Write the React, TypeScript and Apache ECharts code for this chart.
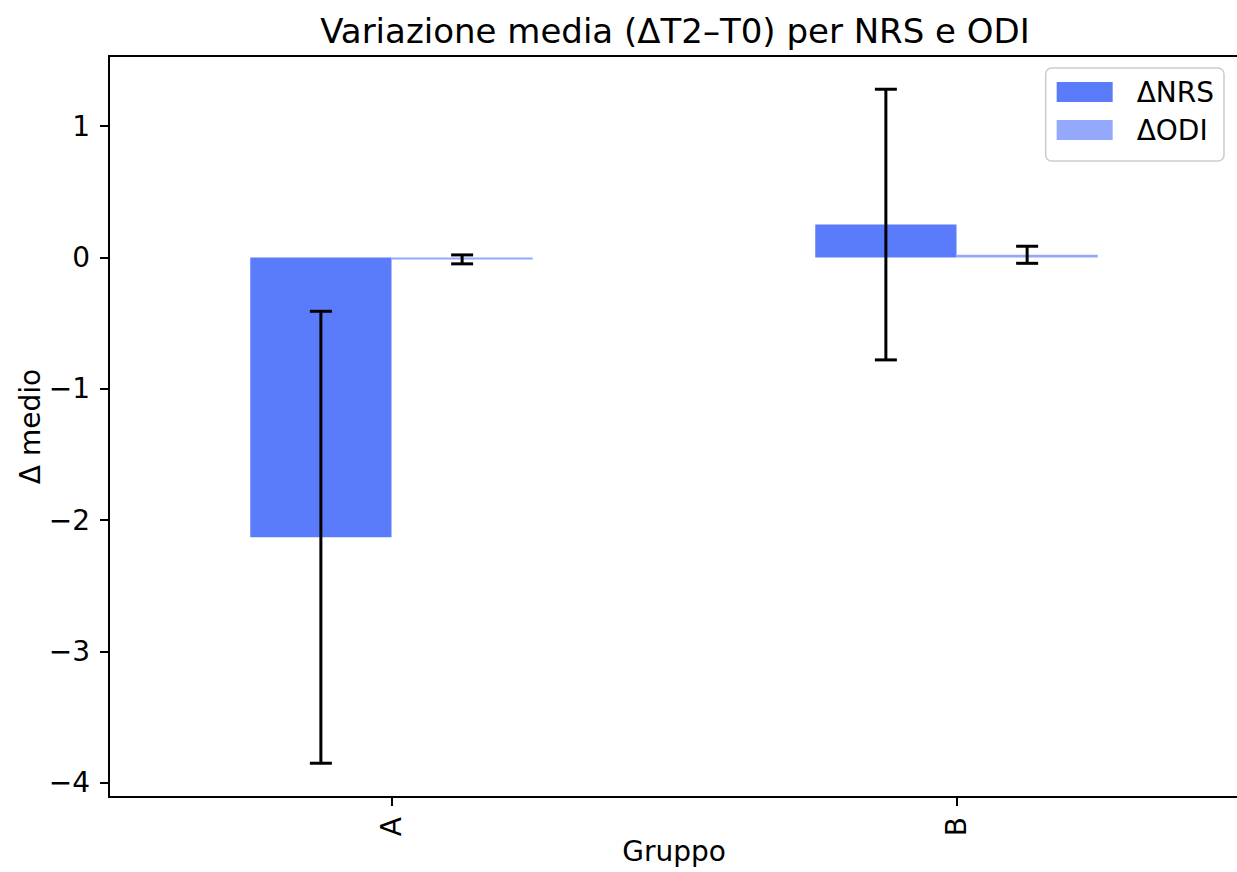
import React, { useEffect, useRef } from "react";
import * as echarts from "echarts";

const categories = ["A", "B"];
const nrsMean = [-2.13, 0.25];
const nrsErr = [1.72, 1.03];
const odiMean = [-0.015, 0.02];
const odiErr = [0.034, 0.065];
const yTicks = [-4, -3, -2, -1, 0, 1];
const seriesNames = ["ΔNRS", "ΔODI"];
const titleText = "Variazione media (ΔT2–T0) per NRS e ODI";

const FONT = "DejaVu Sans";

function errData(mean: number[], err: number[]) {
  return mean.map((m, i) => [i, m - err[i], m + err[i]]);
}

function makeErrRender(offset: number) {
  return (params: any, api: any) => {
    const i = api.value(0);
    const lo = api.value(1);
    const hi = api.value(2);
    const band = api.size([1, 0])[0];
    const x = api.coord([i, 0])[0] + offset * band;
    const yLo = api.coord([i, lo])[1];
    const yHi = api.coord([i, hi])[1];
    const cap = 11;
    const st = { stroke: "#000", lineWidth: 3 };
    return {
      type: "group",
      children: [
        { type: "line", shape: { x1: x, y1: yLo, x2: x, y2: yHi }, style: st },
        { type: "line", shape: { x1: x - cap, y1: yLo, x2: x + cap, y2: yLo }, style: st },
        { type: "line", shape: { x1: x - cap, y1: yHi, x2: x + cap, y2: yHi }, style: st },
      ],
    };
  };
}

export default function App() {
  const ref = useRef<HTMLDivElement>(null);
  useEffect(() => {
    if (!ref.current) return;
    const chart = echarts.init(ref.current, null, { renderer: "svg" });
    const fmt = (v: number) => (v < 0 ? "\u2212" + Math.abs(v) : String(v));
    chart.setOption({
      animation: false,
      backgroundColor: "#fff",
      textStyle: { fontFamily: FONT, color: "#000" },
      graphic: [
        {
          type: "text",
          x: 675,
          y: 31,
          style: {
            text: titleText,
            font: `34px "${FONT}"`,
            fill: "#000",
            align: "center",
            verticalAlign: "middle",
            textAlign: "center",
            textVerticalAlign: "middle",
          },
        },
      ],
      grid: {
        left: 109,
        top: 56,
        width: 1130,
        height: 741,
        show: false,
        containLabel: false,
        outerBoundsMode: "none",
      },
      legend: {
        data: seriesNames,
        orient: "vertical",
        right: 13,
        top: 68,
        itemWidth: 56,
        itemHeight: 20,
        itemGap: 10,
        padding: [10, 10, 17, 11],
        borderColor: "#cccccc",
        borderWidth: 1.5,
        borderRadius: 6,
        backgroundColor: "rgba(255,255,255,0.8)",
        icon: "rect",
        formatter: "{a|{name}}",
        textStyle: {
          fontFamily: FONT,
          fontSize: 28,
          color: "#000",
          rich: { a: { fontFamily: FONT, fontSize: 28, color: "#000", padding: [0, 0, 0, 19] } },
        },
      },
      xAxis: [
        {
          type: "category",
          data: categories,
          name: "Gruppo",
          nameLocation: "middle",
          nameGap: 40,
          nameMoveOverlap: false,
          nameTextStyle: { fontFamily: FONT, fontSize: 28, color: "#000" },
          axisLine: { show: true, onZero: false, lineStyle: { color: "#000", width: 2 } },
          axisTick: { show: true, alignWithLabel: true, length: 9, lineStyle: { color: "#000", width: 2 } },
          axisLabel: { rotate: 90, margin: 20, fontFamily: FONT, fontSize: 28, color: "#000" },
          splitLine: { show: false },
        },
        {
          type: "category",
          data: categories,
          position: "top",
          axisLine: { show: true, onZero: false, lineStyle: { color: "#000", width: 2 } },
          axisTick: { show: false },
          axisLabel: { show: false },
          splitLine: { show: false },
        },
      ],
      yAxis: {
        type: "value",
        min: -4.107,
        max: 1.533,
        name: "Δ medio",
        nameLocation: "middle",
        nameGap: 65,
        nameMoveOverlap: false,
        nameTextStyle: { fontFamily: FONT, fontSize: 28, color: "#000" },
        axisLine: { show: true, onZero: false, lineStyle: { color: "#000", width: 2 } },
        axisTick: { show: true, length: 9, customValues: yTicks, lineStyle: { color: "#000", width: 2 } },
        axisLabel: {
          margin: 19,
          customValues: yTicks,
          formatter: fmt,
          fontFamily: FONT,
          fontSize: 28,
          color: "#000",
        },
        splitLine: { show: false },
      },
      series: [
        {
          name: seriesNames[0],
          type: "bar",
          data: nrsMean,
          barWidth: "25%",
          barGap: "0%",
          itemStyle: { color: "#5b7cfa" },
        },
        {
          name: seriesNames[1],
          type: "bar",
          data: odiMean,
          barWidth: "25%",
          barGap: "0%",
          itemStyle: { color: "#94a8fc" },
        },
        {
          type: "custom",
          data: errData(nrsMean, nrsErr),
          renderItem: makeErrRender(-0.125),
          encode: { x: 0, y: [1, 2] },
          z: 5,
        },
        {
          type: "custom",
          data: errData(odiMean, odiErr),
          renderItem: makeErrRender(0.125),
          encode: { x: 0, y: [1, 2] },
          z: 5,
        },
      ],
    });
    return () => chart.dispose();
  }, []);
  return (
    <div
      ref={ref}
      style={{ position: "absolute", left: 0, top: 0, width: 1237, height: 872 }}
    />
  );
}
